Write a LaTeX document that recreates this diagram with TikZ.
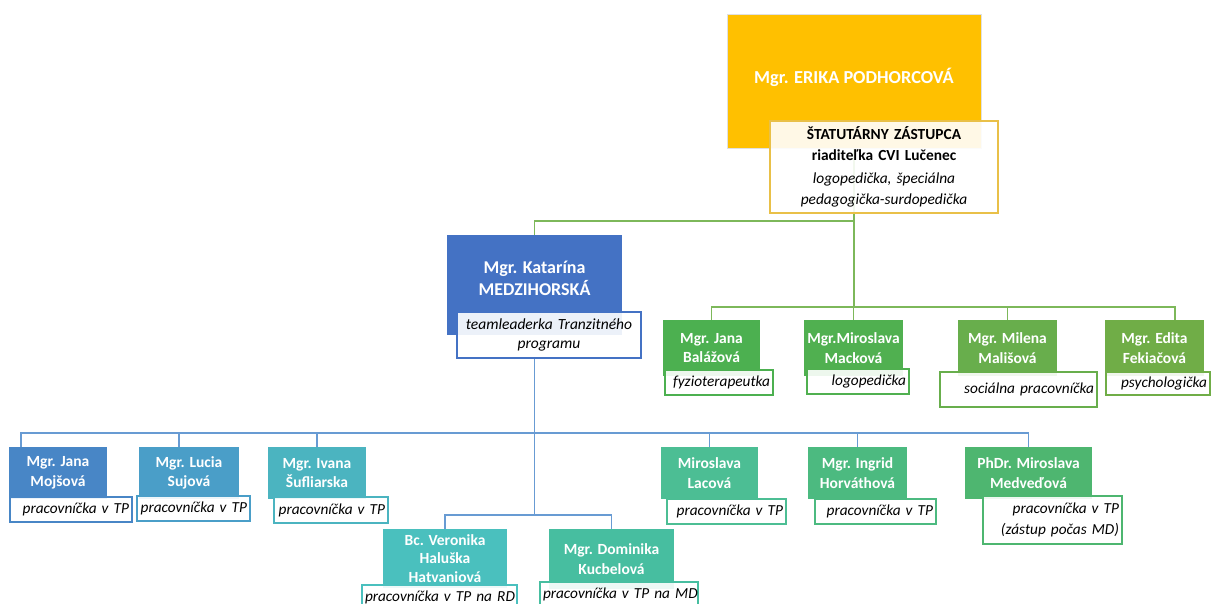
\documentclass[tikz,border=0pt]{standalone}
\usepackage{fontspec}
\setmainfont{Carlito}
\pgfdeclarelayer{bg}
\pgfsetlayers{bg,main}
\definecolor{cyel}{RGB}{255,192,0}
\definecolor{cstat}{RGB}{233,192,72}
\definecolor{ckat}{RGB}{68,114,196}
\definecolor{glinec}{RGB}{125,184,90}
\definecolor{blinec}{RGB}{104,155,211}
\definecolor{cbal}{RGB}{76,176,80}
\definecolor{cmac}{RGB}{80,176,80}
\definecolor{cmal}{RGB}{104,174,76}
\definecolor{cfek}{RGB}{112,173,71}
\definecolor{cmoj}{RGB}{72,134,198}
\definecolor{csuj}{RGB}{74,158,200}
\definecolor{csuf}{RGB}{75,180,192}
\definecolor{cver}{RGB}{74,192,190}
\definecolor{cdom}{RGB}{71,190,160}
\definecolor{clac}{RGB}{76,190,148}
\definecolor{chor}{RGB}{76,186,128}
\definecolor{cmed}{RGB}{78,182,112}
\newcommand\nmfont{\bfseries\fontsize{15.5}{19.5}\selectfont}
\newcommand\nmbigfont{\bfseries\fontsize{18}{22}\selectfont}
\newcommand\nmtopfont{\bfseries\fontsize{18.3}{22}\selectfont}
\newcommand\lbfont{\itshape\fontsize{15.3}{21}\selectfont}
\newcommand\stfont{\fontsize{15.4}{21}\selectfont}
\begin{document}
\begin{tikzpicture}[x=1pt,y=-1pt,
  nm/.style={rectangle, inner sep=0pt, text=white, font=\nmfont, align=center},
  nmtext/.style={inner sep=0pt, text=white, align=center},
  lab/.style n args={3}{rectangle, draw=#1, line width=1.2pt, fill=white, fill opacity=0.9, text opacity=1,
     font=\lbfont, align=right, inner xsep=3pt, inner ysep=0pt, text width=#2, minimum height=#3},
  gline/.style={draw=glinec, line width=1.3pt},
  bline/.style={draw=blinec, line width=1.3pt}]
\useasboundingbox (0,0) rectangle (1215,604);
\clip (0,0) rectangle (1215,604);

% top
\node[nm, fill=cyel, draw=black!12, line width=0.6pt, minimum width=254pt, minimum height=134pt,
  label={[nmtext, font=\nmtopfont, yshift=4pt]center:Mgr. ERIKA PODHORCOVÁ}] (erika) at (854,81) {};
\node[lab={cstat}{222pt}{92pt}, align=center, font=\stfont] (stat) at (884,167)
  {\rule{0pt}{13pt}{\bfseries ŠTATUTÁRNY ZÁSTUPCA}\\{\bfseries riaditeľka CVI Lučenec}\\[2pt]{\itshape logopedička, špeciálna}\\{\itshape pedagogička-surdopedička}};

% team leader
\node[nm, fill=ckat, minimum width=175pt, minimum height=100pt,
  label={[nmtext, font=\nmbigfont, yshift=7pt]center:Mgr. Katarína\\MEDZIHORSKÁ}] (kat) at (534.5,285) {};
\node[lab={ckat}{178pt}{46pt}, align=center, font=\itshape\fontsize{15.5}{19}\selectfont] (katl) at (549,335) {teamleaderka Tranzitného\\programu};

% green row
\node[nm, fill=cbal, minimum width=97pt, minimum height=56pt] (bal) at (711.5,348) {Mgr. Jana\\Balážová};
\node[lab={cbal}{102pt}{25pt}] (ball) at (719,382.5) {\mbox{fyzioterapeutka}};
\node[nm, fill=cmac, minimum width=99pt, minimum height=56pt] (mac) at (853.5,348) {Mgr.Miroslava\\Macková};
\node[lab={cmac}{96pt}{25pt}] (macl) at (858,381.5) {\mbox{logopedička}};
\node[nm, fill=cmal, minimum width=99pt, minimum height=56pt] (mal) at (1007.5,348) {Mgr. Milena\\Mališová};
\node[lab={cmal}{151pt}{35pt}] (mall) at (1018.5,389.5) {\mbox{sociálna pracovníčka}};
\node[nm, fill=cfek, minimum width=99pt, minimum height=56pt] (fek) at (1154.5,348) {Mgr. Edita\\Fekiačová};
\node[lab={cfek}{98pt}{23pt}] (fekl) at (1158,383.5) {\mbox{psychologička}};

% blue row
\node[nm, fill=cmoj, minimum width=98pt, minimum height=52pt] (moj) at (58,473) {Mgr. Jana\\Mojšová};
\node[lab={cmoj}{116pt}{25pt}] (mojl) at (71,509.5) {\mbox{pracovníčka v TP}};
\node[nm, fill=csuj, minimum width=100pt, minimum height=52pt] (suj) at (189,473) {Mgr. Lucia\\Sujová};
\node[lab={csuj}{107pt}{25pt}] (sujl) at (193.5,508.5) {\mbox{pracovníčka v TP}};
\node[nm, fill=csuf, minimum width=98pt, minimum height=52pt] (suf) at (317,473) {Mgr. Ivana\\Šufliarska};
\node[lab={csuf}{108pt}{26pt}] (sufl) at (331,510) {\mbox{pracovníčka v TP}};
\node[nm, fill=clac, minimum width=97pt, minimum height=52pt] (lac) at (709.5,473) {Miroslava\\Lacová};
\node[lab={clac}{113pt}{25pt}] (lacl) at (726.5,511.5) {\mbox{pracovníčka v TP}};
\node[nm, fill=chor, minimum width=99pt, minimum height=52pt] (hor) at (857.5,473) {Mgr. Ingrid\\Horváthová};
\node[lab={chor}{115pt}{25pt}] (horl) at (875.5,511.5) {\mbox{pracovníčka v TP}};
\node[nm, fill=cmed, minimum width=127pt, minimum height=52pt] (med) at (1028.5,473) {PhDr. Miroslava\\Medveďová};
\node[lab={cmed}{133pt}{48pt}] (medl) at (1052.5,520) {\mbox{pracovníčka v TP}\\\mbox{(zástup počas MD)}};

% bottom pair
\node[nm, fill=cver, minimum width=124pt, minimum height=59pt, font=\bfseries\fontsize{15.5}{18.5}\selectfont] (ver) at (445,558.5) {Bc. Veronika\\Haluška\\Hatvaniová};
\node[lab={cver}{149pt}{25pt}] (verl) at (439.5,597.5) {\mbox{pracovníčka v TP na RD}};
\node[nm, fill=cdom, minimum width=125pt, minimum height=60pt] (dom) at (611.5,559) {Mgr. Dominika\\Kucbelová};
\node[lab={cdom}{152pt}{25pt}] (doml) at (619,594.5) {\mbox{pracovníčka v TP na MD}};

\coordinate (gtop) at (0,221);
\coordinate (gbus) at (0,307);
\coordinate (bbus) at (0,433);
\coordinate (bbus2) at (0,515);

\begin{pgfonlayer}{bg}
  \fill[white] (0,0) rectangle (1215,604);
  \draw[gline] (erika.south) |- (kat.north |- gtop) -- (kat.north);
  \draw[gline] (erika.south) -- (erika.south |- gbus);
  \draw[gline] (bal.north) |- ([xshift=20.5pt]fek.north |- gbus) -- ([xshift=20.5pt]fek.north);
  \draw[gline] (mac.north) -- (mac.north |- gbus);
  \draw[gline] (mal.north) -- (mal.north |- gbus);

  \draw[bline] (kat.south |- katl.south) -- (kat.south |- bbus2);
  \draw[bline] ([xshift=-37pt]moj.north) |- (bbus -| med.north) -- (med.north);
  \draw[bline] ([xshift=-10pt]suj.north) -- ([xshift=-10pt]suj.north |- bbus);
  \draw[bline] (suf.north) -- (suf.north |- bbus);
  \draw[bline] (lac.north) -- (lac.north |- bbus);
  \draw[bline] (hor.north) -- (hor.north |- bbus);
  \draw[bline] (ver.north) |- (bbus2 -| dom.north) -- (dom.north);
\end{pgfonlayer}
\end{tikzpicture}
\end{document}
